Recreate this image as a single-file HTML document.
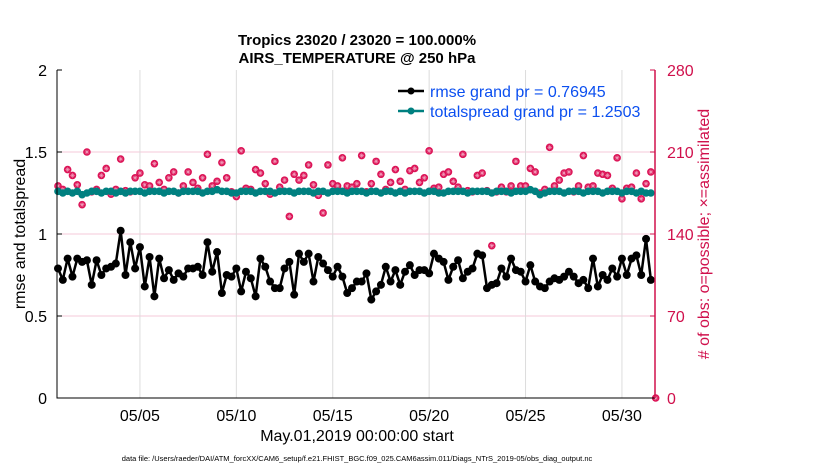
<!DOCTYPE html>
<html><head><meta charset="utf-8"><style>
html,body{margin:0;padding:0;background:#fff;width:830px;height:470px;overflow:hidden}
svg{display:block;font-family:"Liberation Sans",Arial,sans-serif}
</style></head><body>
<svg id="chart" width="830" height="470" viewBox="0 0 830 470">
<g id="grid"></g>
<g id="series"></g>
<g id="axes"></g>
<text x="357" y="45" text-anchor="middle" font-size="15" font-weight="bold">Tropics 23020 / 23020 = 100.000%</text>
<text x="357" y="63" text-anchor="middle" font-size="15" font-weight="bold">AIRS_TEMPERATURE @ 250 hPa</text>
<text transform="translate(25,234) rotate(-90)" text-anchor="middle" font-size="16">rmse and totalspread</text>
<text transform="translate(709,234) rotate(-90)" text-anchor="middle" font-size="16" fill="#d0104c"># of obs: o=possible; ×=assimilated</text>
<text x="357" y="441" text-anchor="middle" font-size="16">May.01,2019 00:00:00 start</text>
<text x="357" y="461" text-anchor="middle" font-size="7.5">data file: /Users/raeder/DAI/ATM_forcXX/CAM6_setup/f.e21.FHIST_BGC.f09_025.CAM6assim.011/Diags_NTrS_2019-05/obs_diag_output.nc</text>
<g>
<line x1="398" y1="91" x2="424" y2="91" stroke="#000" stroke-width="2.5"/>
<circle cx="411" cy="91" r="3.5" fill="#000"/>
<text x="430" y="97" font-size="16" fill="#0b4ff0">rmse grand pr = 0.76945</text>
<line x1="398" y1="111" x2="424" y2="111" stroke="#008080" stroke-width="2.5"/>
<circle cx="411" cy="111" r="3.5" fill="#008080"/>
<text x="430" y="117" font-size="16" fill="#0b4ff0">totalspread grand pr = 1.2503</text>
</g>
</svg>
<script>
const leftTicks=[0,0.5,1,1.5,2];
const leftTickLabels=["0","0.5","1","1.5","2"];
const rightTicks=[0,70,140,210,280];
const dateTickIdx=[17,37,57,77,97,117];
const dateTickLabels=["05/05","05/10","05/15","05/20","05/25","05/30"];
const rmse=[0.79,0.72,0.85,0.74,0.85,0.83,0.84,0.69,0.84,0.75,0.79,0.80,0.82,1.02,0.75,0.95,0.79,0.92,0.68,0.86,0.62,0.85,0.73,0.78,0.72,0.76,0.74,0.79,0.79,0.80,0.75,0.95,0.77,0.89,0.64,0.75,0.74,0.79,0.65,0.77,0.73,0.62,0.85,0.80,0.71,0.67,0.67,0.79,0.83,0.63,0.88,0.83,0.88,0.71,0.86,0.82,0.78,0.74,0.80,0.74,0.64,0.67,0.71,
0.71,0.76,0.60,0.65,0.69,0.80,0.71,0.78,0.69,0.77,0.81,0.75,0.78,0.78,0.76,0.88,0.85,0.83,0.72,0.80,0.84,0.73,0.77,0.79,0.88,0.87,0.67,0.69,0.70,0.79,0.74,0.85,0.78,0.77,0.71,0.81,0.71,0.68,0.67,0.71,0.73,0.72,0.74,0.77,0.74,0.70,0.72,0.67,0.85,0.68,0.75,0.72,0.79,0.74,0.85,0.75,0.85,0.87,0.75,0.97,0.72];
const spread=[1.26,1.25,1.26,1.25,1.26,1.24,1.25,1.26,1.26,1.25,1.26,1.26,1.25,1.26,1.25,1.26,1.26,1.26,1.25,1.26,1.26,1.26,1.25,1.26,1.26,1.25,1.26,1.26,1.26,1.26,1.25,1.26,1.26,1.27,1.26,1.26,1.25,1.25,1.26,1.26,1.26,1.25,1.26,1.26,1.26,1.25,1.26,1.26,1.26,1.25,1.26,1.26,1.26,1.25,1.26,1.26,1.25,1.26,1.26,1.26,1.25,1.26,1.26,
1.26,1.25,1.26,1.26,1.25,1.26,1.26,1.25,1.26,1.25,1.26,1.26,1.26,1.25,1.26,1.26,1.25,1.25,1.26,1.26,1.26,1.26,1.25,1.26,1.26,1.26,1.26,1.25,1.26,1.26,1.26,1.25,1.26,1.26,1.26,1.27,1.26,1.24,1.25,1.26,1.26,1.26,1.25,1.26,1.26,1.26,1.25,1.26,1.26,1.26,1.25,1.26,1.26,1.26,1.25,1.26,1.26,1.25,1.26,1.25,1.25];
const obsCount=[181,178,195,190,182,165,210,176,178,190,196,174,178,204,177,176,188,192,182,181,200,184,178,188,193,175,181,193,184,179,188,208,181,185,201,188,176,172,211,179,178,195,192,183,174,202,180,186,155,191,186,190,199,182,173,158,199,183,181,205,181,180,183,
207,176,183,202,191,178,184,195,185,178,194,196,184,188,211,179,180,191,193,185,180,208,177,176,190,192,177,130,176,180,176,181,202,181,181,196,193,175,178,214,181,186,192,193,176,181,207,180,181,192,191,190,179,205,170,179,180,192,170,183,193,0];
const X0=58,DX=4.82,L=57,R=655,T=70,B=398;
const xs=i=>X0+i*DX;
const yl=v=>B-(v-0)/(2-0)*(B-T);
const yr=v=>B-(v-0)/(280-0)*(B-T);
const NS="http://www.w3.org/2000/svg";
function mk(tag,attrs,parent){const e=document.createElementNS(NS,tag);for(const k in attrs)e.setAttribute(k,attrs[k]);parent.appendChild(e);return e;}
const grid=document.getElementById('grid'),series=document.getElementById('series'),axes=document.getElementById('axes');
leftTicks.forEach((v,i)=>{
  if(v>0&&v<2){const g=mk('line',{x1:L,x2:R,y1:yl(v),y2:yl(v),stroke:'#f6c8d8','stroke-width':1},grid);
  
  }
  const t=mk('line',{x1:L,x2:L+5,y1:yl(v),y2:yl(v),stroke:'#000'},axes);
  
  
  const lb=mk('text',{x:L-10,y:yl(v)+6,'text-anchor':'end','font-size':16},axes);lb.textContent=leftTickLabels[i];
  
  
});
rightTicks.forEach(v=>{
  const t=mk('line',{x1:R-5,x2:R,y1:yr(v),y2:yr(v),stroke:'#d0104c'},axes);
  
  
  const lb=mk('text',{x:R+12,y:yr(v)+6,'font-size':16,fill:'#d0104c'},axes);lb.textContent=String(v);
  
  
});
dateTickIdx.forEach((ix,i)=>{
  const x=xs(ix);
  const g=mk('line',{x1:x,x2:x,y1:T,y2:B,stroke:'#dcdcdc'},grid);
  
  
  const lb=mk('text',{x:x,y:421,'text-anchor':'middle','font-size':16},axes);lb.textContent=dateTickLabels[i];
  
  
});
const ax=mk('path',{d:`M${L},${T}V${B}H${R}`,fill:'none',stroke:'#000','stroke-width':1},axes);


const axr=mk('line',{x1:R,x2:R,y1:T,y2:B,stroke:'#d0104c','stroke-width':1.5},axes);


obsCount.forEach((v,i)=>{
  const x=xs(i),y=yr(v);
  const g=mk('g',{},series);
  
  
  mk('circle',{cx:x,cy:y,r:3.8,fill:'#dc1457'},g);
  mk('path',{d:`M${x-2.3},${y}h4.6M${x},${y-2.3}v4.6M${x-1.6},${y-1.6}l3.2,3.2M${x-1.6},${y+1.6}l3.2,-3.2`,stroke:'#f0a0bc','stroke-width':0.6},g);
});
function drawLine(arr,color,name,r){
  const d=arr.map((v,i)=>(i?'L':'M')+xs(i).toFixed(1)+','+yl(v).toFixed(1)).join('');
  const p=mk('path',{d:d,fill:'none',stroke:color,'stroke-width':2.5,'stroke-linejoin':'round'},series);
  
  
  arr.forEach((v,i)=>{
    const c=mk('circle',{cx:xs(i),cy:yl(v),r:r,fill:color},series);
    
    
  });
}
drawLine(spread,'#008080','totalspread',3.8);
drawLine(rmse,'#000000','rmse',4);
</script>
</body></html>
